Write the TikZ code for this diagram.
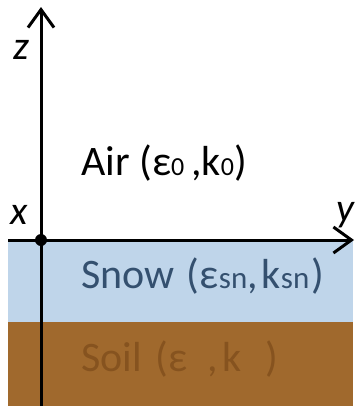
\documentclass[tikz,border=0pt]{standalone}
\usepackage{fontspec}
\setmainfont{Carlito}
\usetikzlibrary{arrows.meta}
\definecolor{snowc}{HTML}{BFD5EA}
\definecolor{snowtxt}{HTML}{34506F}
\definecolor{soilc}{HTML}{A0692D}
\definecolor{soiltxt}{HTML}{86531F}
\newcommand{\sbs}[1]{{\fontsize{26}{26}\selectfont #1}}
\newcommand{\sbsn}[1]{{\fontsize{31}{31}\selectfont #1}}
\tikzset{
  axis/.style={line width=3pt, black, -{Straight Barb[length=18pt,width=26pt,line width=3pt]}},
  lbl/.style={font=\fontsize{42}{44}\selectfont, inner sep=0pt, anchor=base west},
  axlbl/.style={font=\fontsize{40}{42}\selectfont\itshape, inner sep=0pt}
}
\begin{document}
\begin{tikzpicture}[x=1pt,y=-1pt]
\useasboundingbox (0,0) rectangle (357,407);
\fill[white] (0,0) rectangle (357,407);
% layers
\fill[snowc] (8,240) rectangle (353,322);
\fill[soilc] (8,322) rectangle (353,406);
% coordinates
\coordinate (O) at (41,240);
\coordinate (zbot) at (41,406);
\coordinate (ztop) at (41,7);
\coordinate (yleft) at (8,240);
\coordinate (yright) at (354,240);
\draw[axis] (zbot) -- (ztop);
\draw[axis] (yleft) -- (yright);
\fill[black] (O) circle (6);
% labels
\node[axlbl] (zl) at (21,50) {z};
\node[axlbl] (xl) at (19,215) {x};
\node[axlbl] (yl) at (345,215) {y};
\node[lbl] (air) at (81,175) {Air (ε\sbs{0}\,,k\sbs{0})};
\node[lbl, text=snowtxt] (snow) at (81,288) {Snow\hspace{3pt} (ε\sbsn{sn},\hspace{4pt}k\sbsn{sn}\hspace{2pt})};
\node[lbl, text=soiltxt] (soil) at (81,371) {Soil\hspace{4pt} (ε\hspace{20pt},\hspace{5pt}k\hspace{24pt})};
\end{tikzpicture}
\end{document}
